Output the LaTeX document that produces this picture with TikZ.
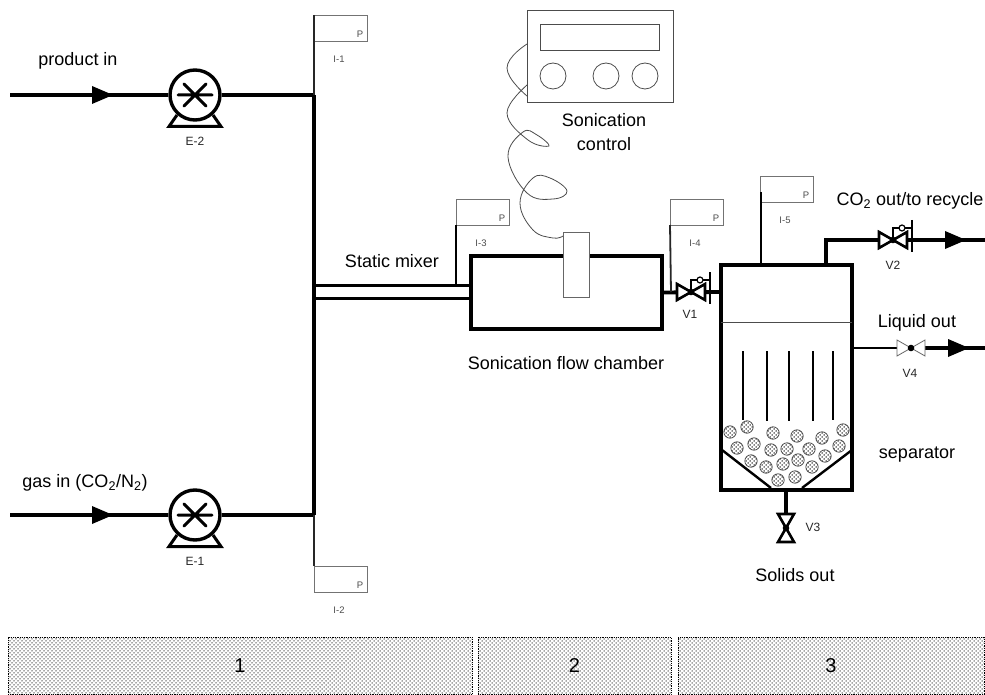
\documentclass[tikz,border=0pt]{standalone}
\usepackage{fontspec}
\setmainfont{Liberation Sans}
\usetikzlibrary{patterns}

\pgfdeclarepatternformonly{zonedots}{\pgfqpoint{-1pt}{-1pt}}{\pgfqpoint{3pt}{3pt}}{\pgfqpoint{4pt}{4pt}}{
  \pgfpathcircle{\pgfqpoint{0pt}{0pt}}{0.75pt}
  \pgfpathcircle{\pgfqpoint{2pt}{2pt}}{0.75pt}
  \pgfusepath{fill}
}

\tikzset{
  pipe/.style={line width=3.8pt},
  mixpipe/.style={line width=3pt},
  probe/.style={line width=1.8pt, black!85},
  thinline/.style={line width=0.8pt, black!70},
  flagbox/.style={draw=black!55, line width=0.8pt, fill=white, anchor=north west, minimum width=53pt, minimum height=26pt, inner sep=0pt, outer sep=0pt},
  vessel/.style={draw, line width=3.8pt, fill=white, anchor=north west, inner sep=0pt, outer sep=0pt},
  pumpbody/.style={circle, draw, line width=3.4pt, fill=white, minimum size=50pt, inner sep=0pt},
  zonebar/.style={draw, densely dotted, line width=0.8pt, pattern=zonedots, pattern color=black!70, anchor=north west, inner sep=0pt, outer sep=0pt, font=\fontsize{20}{24}\selectfont},
  particle/.style={draw, line width=0.7pt, black!75, pattern=zonedots, pattern color=black},
  lbl/.style={font=\fontsize{18}{24}\selectfont, align=center, inner sep=0pt},
  tagtext/.style={font=\fontsize{12}{14}\selectfont, black!85, inner sep=0pt},
  itag/.style={font=\fontsize{9.5}{11}\selectfont, black!70, inner sep=0pt},
  pumpmarks/.pic={
    \draw[line width=3pt, line cap=round] (-17,0) -- (17,0) (-11,-11) -- (11,11) (-11,11) -- (11,-11);
  },
  pumpfoot/.pic={
    \draw[line width=3pt, line join=miter, fill=white] (-18,20) -- (-26,31.5) -- (26,31.5) -- (18,20);
  },
  flowtip/.pic={
    \fill (-10,-9) -- (11,0) -- (-10,9) -- cycle;
  },
  valve/.pic={
    \draw[fill=white, pic actions] (0,0) -- (-14,-8) -- (-14,8) -- cycle;
    \draw[fill=white, pic actions] (0,0) -- (14,-8) -- (14,8) -- cycle;
    \fill[black] (0,0) circle (3.3);
  },
  valvestem/.pic={
    \draw[line width=2.4pt] (0,0) -- (0,-12) -- (19,-12);
    \draw[line width=1.4pt] (19,-20) -- (19,12);
    \draw[line width=1.2pt, fill=white] (9,-12) circle (3);
  },
}

\begin{document}
\begin{tikzpicture}[x=1pt, y=-1pt]
  \useasboundingbox (0,0) rectangle (985,695);

  % Feed lines and pumps
  \coordinate (inB) at (10,95);
  \coordinate (inA) at (10,515);
  \coordinate (junB) at (314,95);
  \coordinate (junA) at (314,515);
  \pic at (195,95) {pumpfoot};
  \pic at (195,515) {pumpfoot};
  \node[pumpbody] (pumpB) at (195,95) {};
  \node[pumpbody] (pumpA) at (195,515) {};
  \pic at (pumpB) {pumpmarks};
  \pic at (pumpA) {pumpmarks};
  \draw[pipe] (inB) -- (pumpB);
  \draw[pipe] (pumpB) -- (junB);
  \draw[pipe] (inA) -- (pumpA);
  \draw[pipe] (pumpA) -- (junA);
  \draw[pipe] (junB) -- (junA);
  \pic at (102,95) {flowtip};
  \pic at (102,515) {flowtip};
  \node[lbl] (prodlabel) at (78,61) {product in};
  \node[lbl] (gaslabel) at (85,483) {gas in (CO\textsubscript{2}/N\textsubscript{2})};
  \node[tagtext] (pumpBtag) at (195,141) {E-2};
  \node[tagtext] (pumpAtag) at (195,561) {E-1};

  % Instrument flags
  \foreach \n/\fx/\fy/\t in {A/314/15/I-1, B/314/566/I-2, C/456/199/I-3, D/670/199/I-4, E/760/176/I-5} {
    \node[flagbox] (flag\n) at (\fx,\fy) {};
    \node[itag] (flagtext\n) at (\fx+46,\fy+19) {P};
    \node[itag] (flagtag\n) at (\fx+25,\fy+44) {\t};
  }
  \draw[probe] (flagA.north west) -- (junB);
  \draw[probe] (flagB.north west) -- (junA);

  % Chamber with static mixer
  \node[vessel, minimum width=191pt, minimum height=73pt] (chamber) at (471,256) {};
  \coordinate (mixB) at (314,285);
  \coordinate (mixA) at (314,298);
  \draw[mixpipe] (mixB) -- (chamber.west |- mixB);
  \draw[mixpipe] (mixA) -- (chamber.west |- mixA);
  \coordinate (tapC) at (456,285);
  \draw[line width=2.4pt] (flagC.south west) -- (tapC);
  \node[lbl] (mixlabel) at (392,261) {Static mixer};
  \node[lbl] (chamberlabel) at (566,363) {Sonication flow chamber};
  \node[draw=black!60, line width=0.8pt, fill=white, anchor=north west, minimum width=26pt, minimum height=65pt, inner sep=0pt, outer sep=0pt] (horn) at (563,232) {};

  % Control box and its cable
  \node[draw=black!70, line width=0.8pt, anchor=north west, minimum width=146pt, minimum height=92pt, inner sep=0pt, outer sep=0pt] (control) at (527,10) {};
  \node[draw=black!70, line width=0.8pt, anchor=north west, minimum width=119pt, minimum height=26pt, inner sep=0pt, outer sep=0pt] (display) at (540,24) {};
  \foreach \n/\kx in {A/553, B/606, C/645} {
    \node[circle, draw=black!70, line width=0.8pt, minimum size=26pt, inner sep=0pt] (knob\n) at (\kx,76) {};
  }
  \draw[thinline] plot[smooth, tension=0.8] coordinates {(527,44) (507,68) (527,96)};
  \draw[thinline] plot[smooth, tension=0.7] coordinates {(527,85) (507,113) (528,140) (549,146) (537,135) (523,132) (508,157) (527,193) (553,199) (567,191) (550,178) (533,178) (520,203) (533,230) (553,238) (563,236)};
  \node[lbl] (controllabel) at (604,132) {Sonication\\control};

  % Separator
  \node[vessel, minimum width=131pt, minimum height=225pt] (sep) at (721,265) {};
  \coordinate (levelL) at (721,322);
  \draw[thinline] (levelL) -- (sep.east |- levelL);
  \foreach \bx/\by in {743/420, 767/421, 789/421, 813/421, 833/420} {
    \draw[line width=1.4pt] (\bx,351) -- (\bx,\by);
  }
  \foreach \px/\py in {730/432, 747/427, 773/433, 797/436, 822/438, 843/430, 737/448, 754/444, 771/450, 787/449, 809/449, 839/446, 825/456, 751/461, 766/467, 783/464, 798/460, 812/467, 778/480, 795/477} {
    \draw[particle] (\px,\py) circle (6.2);
  }
  \draw[line width=2.4pt] (722,450) -- (771,488);
  \draw[line width=2.4pt] (852,450) -- (802,488);
  \node[lbl] (seplabel) at (917,455) {separator};

  % V1 with flag
  \coordinate (valveA) at (691,292);
  \coordinate (tapD) at (671,292);
  \draw[pipe] (chamber.east) -- (sep.west |- valveA);
  \draw[probe] (flagD.south west) -- (tapD);
  \pic[line width=2.6pt] at (valveA) {valve};
  \pic at (valveA) {valvestem};
  \node[tagtext] (valveAtag) at (690,314) {V1};

  % I-5 probe
  \coordinate (probeE) at (761,192);
  \coordinate (probeEend) at (761,265);
  \draw[line width=2.8pt] (probeE) -- (probeEend);

  % V2, gas out
  \coordinate (outCa) at (826,265);
  \coordinate (outCb) at (826,240);
  \coordinate (outCc) at (985,240);
  \coordinate (valveB) at (893,240);
  \draw[pipe] (outCa) -- (outCb) -- (outCc);
  \pic[line width=2.6pt] at (valveB) {valve};
  \pic at (valveB) {valvestem};
  \pic at (955,240) {flowtip};
  \node[tagtext] (valveBtag) at (893,265) {V2};
  \node[lbl] (gasoutlabel) at (910,201) {CO\textsubscript{2} out/to recycle};

  % V4, liquid out
  \coordinate (valveD) at (911,348);
  \coordinate (outDa) at (852,348);
  \coordinate (outDb) at (985,348);
  \draw[line width=2.8pt] (outDa) -- (valveD);
  \draw[pipe] (valveD) -- (outDb);
  \pic[draw=black!60, line width=0.8pt] at (valveD) {valve};
  \pic at (958,348) {flowtip};
  \node[tagtext] (valveDtag) at (910,373) {V4};
  \node[lbl] (liquidlabel) at (917,323) {Liquid out};

  % V3, solids out
  \coordinate (valveC) at (786,528);
  \draw[pipe] (sep.south -| valveC) -- (valveC);
  \pic[rotate=90, line width=2.6pt] at (valveC) {valve};
  \node[tagtext] (valveCtag) at (813,527) {V3};
  \node[lbl] (solidslabel) at (795,575) {Solids out};

  % Zones
  \node[zonebar, minimum width=464pt, minimum height=57pt] (zoneA) at (8,637) {1};
  \node[zonebar, minimum width=193pt, minimum height=57pt] (zoneB) at (478,637) {2};
  \node[zonebar, minimum width=306pt, minimum height=57pt] (zoneC) at (678,637) {3};
\end{tikzpicture}
\end{document}
